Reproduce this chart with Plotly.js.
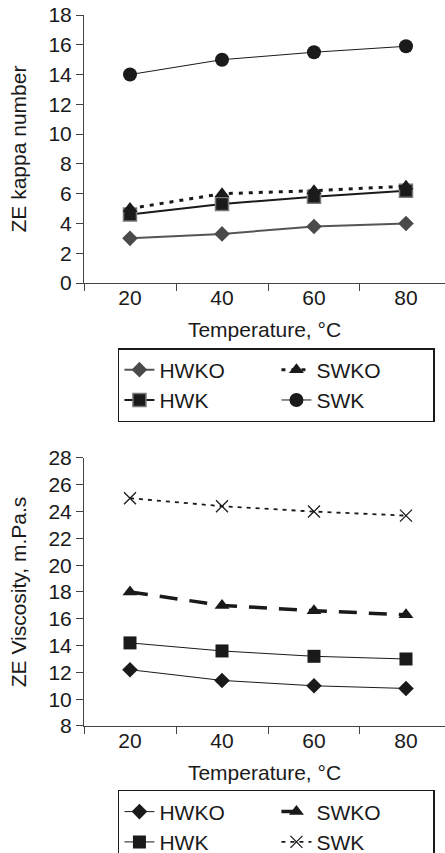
<!DOCTYPE html>
<html>
<head>
<meta charset="utf-8">
<script src="https://cdn.plot.ly/plotly-3.0.1.min.js"></script>
<style>
  html, body { margin: 0; padding: 0; background: #fff; }
  #chart { width: 445px; height: 853px; }
</style>
</head>
<body>
<div id="chart"></div>
<script>
// Kappa number and viscosity of the extracted pulps vs. temperature
const temperatures = ["20", "40", "60", "80"];

const kappaHWKO = [3.0, 3.3, 3.8, 4.0];
const kappaSWKO = [5.0, 6.0, 6.2, 6.5];
const kappaHWK  = [4.6, 5.3, 5.8, 6.2];
const kappaSWK  = [14.0, 15.0, 15.5, 15.9];

const viscHWKO = [12.2, 11.4, 11.0, 10.8];
const viscSWKO = [18.0, 17.0, 16.6, 16.3];
const viscHWK  = [14.2, 13.6, 13.2, 13.0];
const viscSWK  = [25.0, 24.4, 24.0, 23.7];

const seriesNames = ["HWKO", "SWKO", "HWK", "SWK"];

const FONT = "Liberation Sans, Arial, sans-serif";
const INK = "#1a1a1a";
const FS = 21;

// legend entries follow the order of seriesNames, whatever the drawing order
function series(name, y, xa, ya, leg, line, marker) {
  return {
    type: "scatter", mode: "lines+markers", name: name,
    legendrank: seriesNames.indexOf(name) + 1,
    x: temperatures, y: y, xaxis: xa, yaxis: ya, legend: leg,
    line: line, marker: marker, cliponaxis: false
  };
}

const traces = [
  // kappa number (squares drawn below the triangles)
  series(seriesNames[0], kappaHWKO, "x", "y", "legend",
    { color: "#555", width: 2 },
    { symbol: "diamond", size: 12, color: "#4a4a4a" }),
  series(seriesNames[2], kappaHWK, "x", "y", "legend",
    { color: INK, width: 2 },
    { symbol: "square", size: 13, color: INK, line: { color: "#777", width: 1.5 } }),
  series(seriesNames[1], kappaSWKO, "x", "y", "legend",
    { color: INK, width: 3, dash: "4px,6px" },
    { symbol: "triangle-up", size: 13, color: INK }),
  series(seriesNames[3], kappaSWK, "x", "y", "legend",
    { color: INK, width: 1 },
    { symbol: "circle", size: 14, color: INK }),
  // viscosity
  series(seriesNames[0], viscHWKO, "x2", "y2", "legend2",
    { color: INK, width: 1 },
    { symbol: "diamond", size: 12, color: INK }),
  series(seriesNames[1], viscSWKO, "x2", "y2", "legend2",
    { color: INK, width: 3.5, dash: "18px,12px" },
    { symbol: "triangle-up", size: 13, color: INK }),
  series(seriesNames[2], viscHWK, "x2", "y2", "legend2",
    { color: INK, width: 1 },
    { symbol: "square", size: 13, color: INK }),
  series(seriesNames[3], viscSWK, "x2", "y2", "legend2",
    { color: INK, width: 1.8, dash: "4px,5px" },
    { symbol: "x-thin", size: 12, color: INK, line: { color: INK, width: 1.3 } })
];

const xCommon = {
  type: "category",
  range: [-0.5, 3.424],
  tickson: "boundaries",
  ticks: "outside", ticklen: 7, tickcolor: "#444", tickwidth: 1,
  showline: true, linecolor: "#444", linewidth: 1,
  showgrid: false, zeroline: false,
  tickfont: { family: FONT, size: FS, color: INK },
  ticklabelstandoff: -4,
  title: { text: "Temperature, °C", font: { family: FONT, size: FS, color: INK }, standoff: 14 },
  fixedrange: true
};

const yCommon = {
  ticks: "outside", ticklen: 7, tickcolor: "#444", tickwidth: 1,
  showline: true, linecolor: "#444", linewidth: 1,
  showgrid: false, zeroline: false, dtick: 2,
  tickfont: { family: FONT, size: FS, color: INK },
  fixedrange: true
};

const legendCommon = {
  orientation: "h",
  traceorder: "normal",
  xanchor: "left", yanchor: "top",
  bgcolor: "#fff", bordercolor: INK, borderwidth: 1.5,
  font: { family: FONT, size: FS, color: INK },
  entrywidth: 112, entrywidthmode: "pixels",
  itemwidth: 30, tracegroupgap: 0
};

const layout = {
  width: 445, height: 853,
  margin: { l: 84, r: 0, t: 0, b: 0, autoexpand: false },
  paper_bgcolor: "#fff", plot_bgcolor: "#fff",
  showlegend: true,
  xaxis: Object.assign({}, xCommon, { anchor: "y" }),
  yaxis: Object.assign({}, yCommon, {
    anchor: "x", domain: [0.6682, 0.9824], range: [0, 18],
    title: { text: "ZE kappa number", font: { family: FONT, size: FS, color: INK }, standoff: 16 }
  }),
  xaxis2: Object.assign({}, xCommon, { anchor: "y2" }),
  yaxis2: Object.assign({}, yCommon, {
    anchor: "x2", domain: [0.1489, 0.4631], range: [8, 28],
    title: { text: "ZE Viscosity, m.Pa.s", font: { family: FONT, size: FS, color: INK }, standoff: 16 }
  }),
  legend: Object.assign({}, legendCommon, { x: 0.094, y: 0.592 }),
  legend2: Object.assign({}, legendCommon, { x: 0.094, y: 0.0739 })
};

Plotly.newPlot("chart", traces, layout, { staticPlot: true, displayModeBar: false });
</script>
</body>
</html>
